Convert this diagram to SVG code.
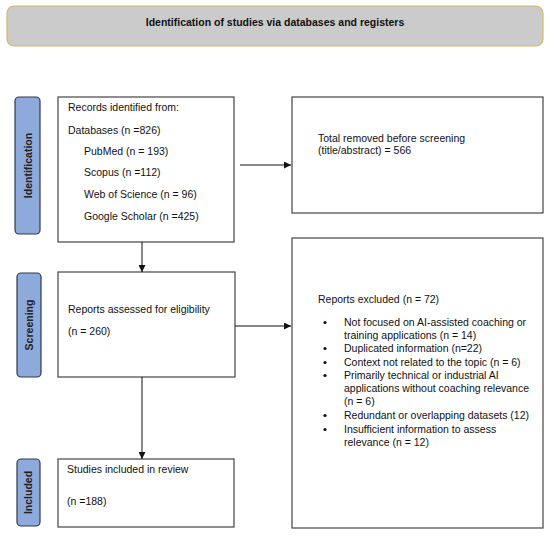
<svg xmlns="http://www.w3.org/2000/svg" width="550" height="536" viewBox="0 0 550 536">
<defs>
<marker id="arr" viewBox="0 0 10 10" refX="10" refY="5" markerWidth="7" markerHeight="7" markerUnits="userSpaceOnUse" orient="auto"><path d="M0,0 L10,5 L0,10 z" fill="#111"/></marker>
<style>
.box{fill:#fff;stroke:#444;stroke-width:1.2}
.side{fill:#8eaadb;stroke:#2e3a4f;stroke-width:1.2}
.t{font-family:"Liberation Sans",Arial,sans-serif;font-size:10.5px;fill:#111}
.s{font-family:"Liberation Sans",Arial,sans-serif;font-size:10.5px;font-weight:bold;fill:#222}
.c{stroke:#111;stroke-width:1;fill:none;marker-end:url(#arr)}
</style>
</defs>
<rect width="550" height="536" fill="#fff"/>
<g id="header">
<rect x="7" y="6" width="536" height="40" rx="7" fill="#cbcbcb" stroke="#d4b96a" stroke-width="1.2"/>
<text class="s" x="275" y="26" text-anchor="middle" style="fill:#111">Identification of studies via databases and registers</text>
</g>
<g id="side-identification">
<rect class="side" x="15" y="97" width="25" height="137" rx="4"/>
<text class="s" transform="translate(31.5,165.5) rotate(-90)" text-anchor="middle">Identification</text>
</g>
<g id="side-screening">
<rect class="side" x="17" y="273" width="24" height="104" rx="4"/>
<text class="s" transform="translate(32.5,325) rotate(-90)" text-anchor="middle">Screening</text>
</g>
<g id="side-included">
<rect class="side" x="17" y="459" width="23" height="67" rx="4"/>
<text class="s" transform="translate(32,492.5) rotate(-90)" text-anchor="middle">Included</text>
</g>
<g id="records">
<rect class="box" x="58" y="97" width="176" height="145"/>
<text class="t" x="68" y="111">Records identified from:</text>
<text class="t" x="68" y="134">Databases (n =826)</text>
<text class="t" x="84" y="155">PubMed (n = 193)</text>
<text class="t" x="84" y="176">Scopus (n =112)</text>
<text class="t" x="84" y="198">Web of Science (n = 96)</text>
<text class="t" x="84" y="220">Google Scholar (n =425)</text>
</g>
<g id="removed">
<rect class="box" x="292" y="97" width="251" height="116"/>
<text class="t" x="318" y="142">Total removed before screening</text>
<text class="t" x="318" y="154">(title/abstract) = 566</text>
</g>
<g id="assessed">
<rect class="box" x="58" y="272" width="177" height="105"/>
<text class="t" x="68" y="313">Reports assessed for eligibility</text>
<text class="t" x="68" y="335">(n = 260)</text>
</g>
<g id="excluded">
<rect class="box" x="292" y="238" width="251" height="290"/>
<text class="t" x="318" y="303">Reports excluded (n = 72)</text>
<g class="t">
<circle cx="325" cy="322.5" r="1.6" fill="#111"/>
<circle cx="325" cy="348.5" r="1.6" fill="#111"/>
<circle cx="325" cy="362.5" r="1.6" fill="#111"/>
<circle cx="325" cy="375.5" r="1.6" fill="#111"/>
<circle cx="325" cy="415.5" r="1.6" fill="#111"/>
<circle cx="325" cy="429.5" r="1.6" fill="#111"/>
</g>
<text class="t" x="344" y="326">Not focused on AI-assisted coaching or</text>
<text class="t" x="344" y="339">training applications (n = 14)</text>
<text class="t" x="344" y="352">Duplicated information (n=22)</text>
<text class="t" x="344" y="366">Context not related to the topic (n = 6)</text>
<text class="t" x="344" y="379">Primarily technical or industrial AI</text>
<text class="t" x="344" y="392">applications without coaching relevance</text>
<text class="t" x="344" y="405">(n = 6)</text>
<text class="t" x="344" y="419">Redundant or overlapping datasets (12)</text>
<text class="t" x="344" y="433">Insufficient information to assess</text>
<text class="t" x="344" y="446">relevance (n = 12)</text>
</g>
<g id="included">
<rect class="box" x="58" y="459" width="176" height="68"/>
<text class="t" x="67" y="473">Studies included in review</text>
<text class="t" x="67" y="505">(n =188)</text>
</g>
<g id="connectors">
<path class="c" d="M240,165 H291"/>
<path class="c" d="M142,242 V272"/>
<path class="c" d="M235,326 H291"/>
<path class="c" d="M142,377 V459"/>
</g>
</svg>
